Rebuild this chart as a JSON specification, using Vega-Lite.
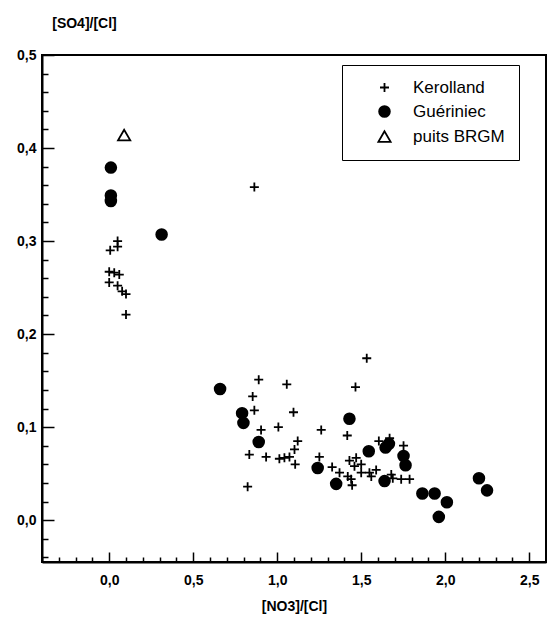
{
  "$schema": "https://vega.github.io/schema/vega-lite/v6.json",
  "autosize": {"type": "none"},
  "padding": {"left": 42, "top": 55, "right": 1, "bottom": 57},
  "width": 504,
  "height": 507,
  "background": "white",
  "config": {
    "view": {"stroke": "black", "strokeWidth": 2},
    "font": "Liberation Sans"
  },
  "data": {
    "values": [
      {"site": "Kerolland", "NO3_Cl": 0.864, "SO4_Cl": 0.358},
      {"site": "Kerolland", "NO3_Cl": 0.05, "SO4_Cl": 0.300},
      {"site": "Kerolland", "NO3_Cl": 0.05, "SO4_Cl": 0.294},
      {"site": "Kerolland", "NO3_Cl": 0.006, "SO4_Cl": 0.290},
      {"site": "Kerolland", "NO3_Cl": 0.0, "SO4_Cl": 0.267},
      {"site": "Kerolland", "NO3_Cl": 0.03, "SO4_Cl": 0.266},
      {"site": "Kerolland", "NO3_Cl": 0.06, "SO4_Cl": 0.264},
      {"site": "Kerolland", "NO3_Cl": 0.0, "SO4_Cl": 0.2555},
      {"site": "Kerolland", "NO3_Cl": 0.05, "SO4_Cl": 0.252},
      {"site": "Kerolland", "NO3_Cl": 0.077, "SO4_Cl": 0.246},
      {"site": "Kerolland", "NO3_Cl": 0.10, "SO4_Cl": 0.243},
      {"site": "Kerolland", "NO3_Cl": 0.10, "SO4_Cl": 0.221},
      {"site": "Kerolland", "NO3_Cl": 0.89, "SO4_Cl": 0.151},
      {"site": "Kerolland", "NO3_Cl": 1.057, "SO4_Cl": 0.146},
      {"site": "Kerolland", "NO3_Cl": 0.854, "SO4_Cl": 0.133},
      {"site": "Kerolland", "NO3_Cl": 0.864, "SO4_Cl": 0.118},
      {"site": "Kerolland", "NO3_Cl": 1.097, "SO4_Cl": 0.116},
      {"site": "Kerolland", "NO3_Cl": 0.904, "SO4_Cl": 0.097},
      {"site": "Kerolland", "NO3_Cl": 1.007, "SO4_Cl": 0.100},
      {"site": "Kerolland", "NO3_Cl": 1.122, "SO4_Cl": 0.085},
      {"site": "Kerolland", "NO3_Cl": 1.103, "SO4_Cl": 0.076},
      {"site": "Kerolland", "NO3_Cl": 0.834, "SO4_Cl": 0.0705},
      {"site": "Kerolland", "NO3_Cl": 0.934, "SO4_Cl": 0.068},
      {"site": "Kerolland", "NO3_Cl": 1.013, "SO4_Cl": 0.066},
      {"site": "Kerolland", "NO3_Cl": 1.043, "SO4_Cl": 0.067},
      {"site": "Kerolland", "NO3_Cl": 1.073, "SO4_Cl": 0.068},
      {"site": "Kerolland", "NO3_Cl": 1.107, "SO4_Cl": 0.060},
      {"site": "Kerolland", "NO3_Cl": 0.824, "SO4_Cl": 0.036},
      {"site": "Kerolland", "NO3_Cl": 1.533, "SO4_Cl": 0.174},
      {"site": "Kerolland", "NO3_Cl": 1.466, "SO4_Cl": 0.143},
      {"site": "Kerolland", "NO3_Cl": 1.262, "SO4_Cl": 0.097},
      {"site": "Kerolland", "NO3_Cl": 1.417, "SO4_Cl": 0.091},
      {"site": "Kerolland", "NO3_Cl": 1.251, "SO4_Cl": 0.068},
      {"site": "Kerolland", "NO3_Cl": 1.327, "SO4_Cl": 0.057},
      {"site": "Kerolland", "NO3_Cl": 1.43, "SO4_Cl": 0.064},
      {"site": "Kerolland", "NO3_Cl": 1.47, "SO4_Cl": 0.067},
      {"site": "Kerolland", "NO3_Cl": 1.50, "SO4_Cl": 0.060},
      {"site": "Kerolland", "NO3_Cl": 1.46, "SO4_Cl": 0.058},
      {"site": "Kerolland", "NO3_Cl": 1.50, "SO4_Cl": 0.051},
      {"site": "Kerolland", "NO3_Cl": 1.549, "SO4_Cl": 0.051},
      {"site": "Kerolland", "NO3_Cl": 1.56, "SO4_Cl": 0.047},
      {"site": "Kerolland", "NO3_Cl": 1.44, "SO4_Cl": 0.044},
      {"site": "Kerolland", "NO3_Cl": 1.446, "SO4_Cl": 0.0375},
      {"site": "Kerolland", "NO3_Cl": 1.589, "SO4_Cl": 0.054},
      {"site": "Kerolland", "NO3_Cl": 1.679, "SO4_Cl": 0.049},
      {"site": "Kerolland", "NO3_Cl": 1.688, "SO4_Cl": 0.045},
      {"site": "Kerolland", "NO3_Cl": 1.738, "SO4_Cl": 0.044},
      {"site": "Kerolland", "NO3_Cl": 1.788, "SO4_Cl": 0.044},
      {"site": "Kerolland", "NO3_Cl": 1.752, "SO4_Cl": 0.080},
      {"site": "Kerolland", "NO3_Cl": 1.605, "SO4_Cl": 0.085},
      {"site": "Kerolland", "NO3_Cl": 1.669, "SO4_Cl": 0.088},
      {"site": "Kerolland", "NO3_Cl": 1.371, "SO4_Cl": 0.051},
      {"site": "Kerolland", "NO3_Cl": 1.42, "SO4_Cl": 0.047},
      {"site": "Guériniec", "NO3_Cl": 0.010, "SO4_Cl": 0.379},
      {"site": "Guériniec", "NO3_Cl": 0.010, "SO4_Cl": 0.349},
      {"site": "Guériniec", "NO3_Cl": 0.010, "SO4_Cl": 0.343},
      {"site": "Guériniec", "NO3_Cl": 0.312, "SO4_Cl": 0.307},
      {"site": "Guériniec", "NO3_Cl": 0.66, "SO4_Cl": 0.141},
      {"site": "Guériniec", "NO3_Cl": 0.791, "SO4_Cl": 0.115},
      {"site": "Guériniec", "NO3_Cl": 0.799, "SO4_Cl": 0.1045},
      {"site": "Guériniec", "NO3_Cl": 0.89, "SO4_Cl": 0.084},
      {"site": "Guériniec", "NO3_Cl": 1.241, "SO4_Cl": 0.056},
      {"site": "Guériniec", "NO3_Cl": 1.43, "SO4_Cl": 0.109},
      {"site": "Guériniec", "NO3_Cl": 1.545, "SO4_Cl": 0.074},
      {"site": "Guériniec", "NO3_Cl": 1.645, "SO4_Cl": 0.078},
      {"site": "Guériniec", "NO3_Cl": 1.665, "SO4_Cl": 0.082},
      {"site": "Guériniec", "NO3_Cl": 1.752, "SO4_Cl": 0.069},
      {"site": "Guériniec", "NO3_Cl": 1.764, "SO4_Cl": 0.059},
      {"site": "Guériniec", "NO3_Cl": 1.351, "SO4_Cl": 0.039},
      {"site": "Guériniec", "NO3_Cl": 1.639, "SO4_Cl": 0.042},
      {"site": "Guériniec", "NO3_Cl": 1.864, "SO4_Cl": 0.0286},
      {"site": "Guériniec", "NO3_Cl": 1.937, "SO4_Cl": 0.0286},
      {"site": "Guériniec", "NO3_Cl": 2.01, "SO4_Cl": 0.0192},
      {"site": "Guériniec", "NO3_Cl": 1.962, "SO4_Cl": 0.0035},
      {"site": "Guériniec", "NO3_Cl": 2.201, "SO4_Cl": 0.045},
      {"site": "Guériniec", "NO3_Cl": 2.249, "SO4_Cl": 0.032},
      {"site": "puits BRGM", "NO3_Cl": 0.089, "SO4_Cl": 0.414}
    ]
  },
  "mark": {"type": "point", "strokeWidth": 1.8, "opacity": 1, "clip": true},
  "encoding": {
    "x": {
      "field": "NO3_Cl", "type": "quantitative",
      "scale": {"domain": [-0.4, 2.6], "nice": false, "zero": false},
      "axis": {
        "title": "[NO3]/[Cl]",
        "titleFont": "Liberation Sans", "titleFontSize": 14, "titleFontWeight": "bold", "titleColor": "black",
        "titleX": 252, "titleY": 44, "titleAlign": "center", "titleBaseline": "middle",
        "values": [-0.4,-0.3,-0.2,-0.1,0,0.1,0.2,0.3,0.4,0.5,0.6,0.7,0.8,0.9,1.0,1.1,1.2,1.3,1.4,1.5,1.6,1.7,1.8,1.9,2.0,2.1,2.2,2.3,2.4,2.5,2.6],
        "labelExpr": "abs(datum.value*2 - round(datum.value*2)) < 1e-6 ? replace(format(datum.value, '.1f'), '.', ',') : ''",
        "labelFont": "Liberation Sans", "labelFontSize": 14, "labelFontWeight": "bold", "labelColor": "black",
        "labelOverlap": false, "labelFlush": false, "labelPadding": 21,
        "grid": false,
        "domainColor": "black", "domainWidth": 2,
        "tickColor": "black", "tickWidth": 1.5,
        "tickSize": {"condition": {"test": "abs(datum.value*2 - round(datum.value*2)) < 1e-6", "value": -10}, "value": -5}
      }
    },
    "y": {
      "field": "SO4_Cl", "type": "quantitative",
      "scale": {"domain": [-0.045, 0.5], "nice": false, "zero": false},
      "axis": {
        "title": "[SO4]/[Cl]",
        "titleFont": "Liberation Sans", "titleFontSize": 14, "titleFontWeight": "bold", "titleColor": "black",
        "titleAngle": 0, "titleX": 42, "titleY": -32, "titleAlign": "center", "titleBaseline": "middle",
        "values": [-0.04,-0.02,0,0.02,0.04,0.06,0.08,0.1,0.12,0.14,0.16,0.18,0.2,0.22,0.24,0.26,0.28,0.3,0.32,0.34,0.36,0.38,0.4,0.42,0.44,0.46,0.48,0.5],
        "labelExpr": "abs(datum.value*10 - round(datum.value*10)) < 1e-6 ? replace(format(datum.value, '.1f'), '.', ',') : ''",
        "labelFont": "Liberation Sans", "labelFontSize": 14, "labelFontWeight": "bold", "labelColor": "black",
        "labelOverlap": false, "labelFlush": false, "labelPadding": 18,
        "grid": false,
        "domainColor": "black", "domainWidth": 2,
        "tickColor": "black", "tickWidth": 1.5,
        "tickSize": {"condition": {"test": "abs(datum.value*10 - round(datum.value*10)) < 1e-6", "value": -12}, "value": -6}
      }
    },
    "shape": {
      "field": "site", "type": "nominal",
      "scale": {"domain": ["Kerolland", "Guériniec", "puits BRGM"], "range": ["M-1,0H1M0,-1V1", "circle", "triangle-up"]},
      "legend": {
        "title": null, "orient": "none", "legendX": 300, "legendY": 10,
        "strokeColor": "black", "fillColor": "white",
        "padding": 14, "symbolOffset": 20, "labelOffset": 20, "rowPadding": 6,
        "labelFont": "Liberation Sans", "labelFontSize": 17, "labelColor": "black",
        "symbolStrokeWidth": 1.8
      }
    },
    "fill": {
      "field": "site", "type": "nominal",
      "scale": {"domain": ["Kerolland", "Guériniec", "puits BRGM"], "range": ["black", "black", "white"]},
      "legend": {
        "title": null, "orient": "none", "legendX": 300, "legendY": 10,
        "strokeColor": "black", "fillColor": "white",
        "padding": 14, "symbolOffset": 20, "labelOffset": 20, "rowPadding": 6,
        "labelFont": "Liberation Sans", "labelFontSize": 17, "labelColor": "black",
        "symbolStrokeWidth": 1.8
      }
    },
    "stroke": {
      "field": "site", "type": "nominal",
      "scale": {"domain": ["Kerolland", "Guériniec", "puits BRGM"], "range": ["black", "black", "black"]},
      "legend": {
        "title": null, "orient": "none", "legendX": 300, "legendY": 10,
        "strokeColor": "black", "fillColor": "white",
        "padding": 14, "symbolOffset": 20, "labelOffset": 20, "rowPadding": 6,
        "labelFont": "Liberation Sans", "labelFontSize": 17, "labelColor": "black",
        "symbolStrokeWidth": 1.8
      }
    },
    "size": {
      "field": "site", "type": "nominal",
      "scale": {"domain": ["Kerolland", "Guériniec", "puits BRGM"], "range": [81, 150, 120]},
      "legend": {
        "title": null, "orient": "none", "legendX": 300, "legendY": 10,
        "strokeColor": "black", "fillColor": "white",
        "padding": 14, "symbolOffset": 20, "labelOffset": 20, "rowPadding": 6,
        "labelFont": "Liberation Sans", "labelFontSize": 17, "labelColor": "black",
        "symbolStrokeWidth": 1.8
      }
    }
  }
}
